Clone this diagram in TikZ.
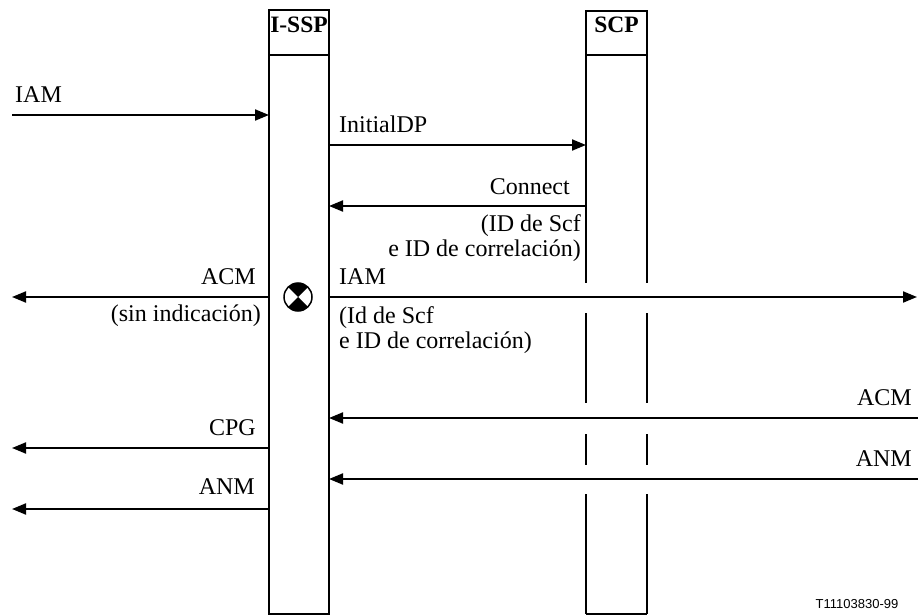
\documentclass[tikz,border=0pt]{standalone}
\usepackage{fontspec}
\setmainfont{Liberation Serif}
\newfontfamily\labsans{Liberation Sans}
\usetikzlibrary{arrows.meta}
\begin{document}
\begin{tikzpicture}[x=1pt,y=-1pt,
  msg/.style={line width=2pt,-{Triangle[length=14pt,width=11pt]}},
  lbl/.style={inner sep=0pt,font=\fontsize{24}{28}\selectfont},
  hdr/.style={inner sep=0pt,font=\fontsize{23.5}{28}\selectfont\bfseries},
  boxline/.style={line width=1.4pt},
  hline/.style={line width=2.2pt}]
\useasboundingbox (0,0) rectangle (918,615);
% I-SSP column
\draw[boxline] (269,614) -- (269,10) -- (329,10) -- (329,614) -- cycle;
\draw[hline] (269,55) -- (329,55);
\node[hdr,anchor=base] (issp) at (299,33) {I-SSP};
% SCP column
\draw[boxline] (586,55) -- (586,11) -- (647,11) -- (647,55);
\draw[hline] (586,55) -- (647,55);
\node[hdr,anchor=base] (scp) at (616.5,33) {SCP};
\foreach \a/\b in {55/283,313/403,434/465,494/614}{
  \draw[boxline] (586,\a) -- (586,\b);
  \draw[boxline] (647,\a) -- (647,\b);
}
\draw[boxline] (586,614) -- (647,614);
% coordinates
\coordinate (o1) at (12,115);   \coordinate (i1) at (269,115);
\coordinate (i2) at (329,145);  \coordinate (s2) at (586,145);
\coordinate (s3) at (586,206);  \coordinate (i3) at (329,206);
\coordinate (i4) at (269,297);  \coordinate (o4) at (12,297);
\coordinate (i5) at (329,297);  \coordinate (r5) at (917,297);
\coordinate (r6) at (918,418);  \coordinate (i6) at (329,418);
\coordinate (i7) at (269,448);  \coordinate (o7) at (12,448);
\coordinate (r8) at (918,479);  \coordinate (i8) at (329,479);
\coordinate (i9) at (269,509);  \coordinate (o9) at (12,509);
% messages
\draw[msg] (o1) -- (i1);
\draw[msg] (i2) -- (s2);
\draw[msg] (s3) -- (i3);
\draw[msg] (i4) -- (o4);
\draw[msg] (i5) -- (r5);
\draw[msg] (r6) -- (i6);
\draw[msg] (i7) -- (o7);
\draw[msg] (r8) -- (i8);
\draw[msg] (i9) -- (o9);
% labels
\node[lbl,anchor=base west] (l1) at (15,103) {IAM};
\node[lbl,anchor=base west] (l2) at (339,132) {InitialDP};
\node[lbl,anchor=base east] (l3) at (570,194) {Connect};
\node[lbl,anchor=base east] (l3a) at (581,231) {(ID de Scf};
\node[lbl,anchor=base east] (l3b) at (581,256) {e ID de correlación)};
\node[lbl,anchor=base east] (l4) at (256,284) {ACM};
\node[lbl,anchor=base east] (l4a) at (261,321) {(sin indicación)};
\node[lbl,anchor=base west] (l5) at (339,284) {IAM};
\node[lbl,anchor=base west] (l5a) at (339,323) {(Id de Scf};
\node[lbl,anchor=base west] (l5b) at (339,348) {e ID de correlación)};
\node[lbl,anchor=base east] (l6) at (912,405) {ACM};
\node[lbl,anchor=base east] (l7) at (256,435) {CPG};
\node[lbl,anchor=base east] (l8) at (912,466) {ANM};
\node[lbl,anchor=base east] (l9) at (255,494) {ANM};
% point-in-call symbol
\coordinate (poi) at (298,297);
\fill[white] (poi) circle (14);
\fill (poi) -- ++(45:14) arc (45:135:14) -- cycle;
\fill (poi) -- ++(225:14) arc (225:315:14) -- cycle;
\draw[line width=1.5pt] (poi) circle (14);
% figure id
\node[inner sep=0pt,font=\labsans\fontsize{13}{15}\selectfont] (fid) at (857,604) {T11103830-99};
\end{tikzpicture}
\end{document}
